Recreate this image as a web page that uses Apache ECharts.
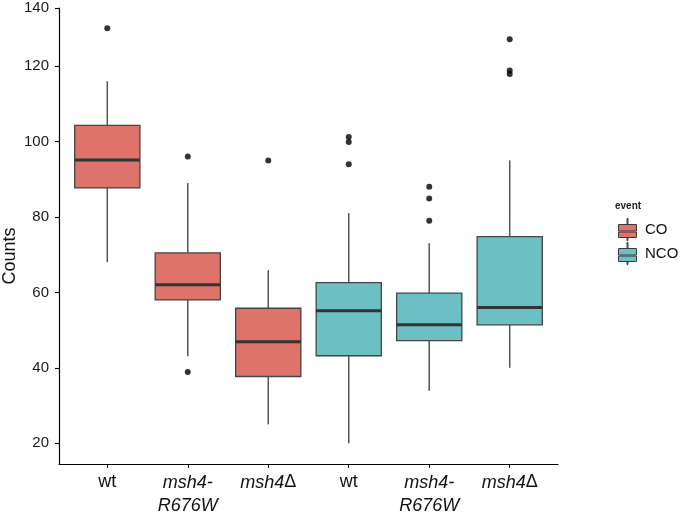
<!DOCTYPE html>
<html><head><meta charset="utf-8">
<script src="https://cdn.jsdelivr.net/npm/echarts@6/dist/echarts.min.js"></script>
<style>html,body{margin:0;padding:0;background:#fff}#c{width:680px;height:514px}</style>
</head><body><div id="c"></div>
<script>
// ---- data ----
const categories = ['wt', 'msh4-R676W', 'msh4Δ', 'wt', 'msh4-R676W', 'msh4Δ'];
const categoryEvent = ['CO', 'CO', 'CO', 'NCO', 'NCO', 'NCO'];
const events = ['CO', 'NCO'];
const yTickValues = [20, 40, 60, 80, 100, 120];
const yTopTick = [140];
// [lower whisker, Q1, median, Q3, upper whisker]
const coStats = [
  [68.0, 87.7, 95.1, 104.3, 116.0],
  [43.1, 58.0, 62.0, 70.5, 89.0],
  [25.0, 37.7, 46.9, 55.8, 65.9]
];
const ncoStats = [
  [20.0, 43.2, 55.1, 62.6, 81.0],
  [33.9, 47.2, 51.4, 59.8, 73.0],
  [40.0, 51.4, 56.0, 74.8, 95.0]
];
const coOutliers = [[130.0], [96.0, 38.9], [95.0]];
const ncoOutliers = [[101.2, 99.9, 94.0], [88.0, 84.9, 79.0], [127.1, 118.8, 117.9]];

// ---- build series data ----
const positions = categories.map((c, i) => i + 1);
const coPos = positions.filter((p, i) => categoryEvent[i] === 'CO');
const ncoPos = positions.filter((p, i) => categoryEvent[i] === 'NCO');
const coData = coStats.map((s, i) => [coPos[i]].concat(s));
const ncoData = ncoStats.map((s, i) => [ncoPos[i]].concat(s));
const outlierData = [];
coOutliers.forEach((arr, i) => arr.forEach(v => outlierData.push([coPos[i], v])));
ncoOutliers.forEach((arr, i) => arr.forEach(v => outlierData.push([ncoPos[i], v])));

function renderBox(params, api) {
  const x = api.value(0);
  const lo = api.coord([x, api.value(1)]);
  const q1 = api.coord([x, api.value(2)]);
  const md = api.coord([x, api.value(3)]);
  const q3 = api.coord([x, api.value(4)]);
  const hi = api.coord([x, api.value(5)]);
  const w = api.size([0.81, 0], [x, 60])[0];
  const cx = q1[0];
  const color = api.visual('color');
  return {
    type: 'group',
    children: [
      { type: 'line', shape: { x1: cx, y1: hi[1], x2: cx, y2: q3[1] }, style: { stroke: '#555', lineWidth: 1.5 } },
      { type: 'line', shape: { x1: cx, y1: q1[1], x2: cx, y2: lo[1] }, style: { stroke: '#555', lineWidth: 1.5 } },
      { type: 'rect', shape: { x: cx - w / 2, y: q3[1], width: w, height: q1[1] - q3[1] }, style: { fill: color, stroke: '#444', lineWidth: 1.3 } },
      { type: 'line', shape: { x1: cx - w / 2, y1: md[1], x2: cx + w / 2, y2: md[1] }, style: { stroke: '#333', lineWidth: 3 } }
    ]
  };
}

function fmtLabel(v) {
  const idx = Math.round(v) - 1;
  const name = categories[idx];
  if (name === undefined) return '';
  if (name.indexOf('msh4') !== 0) return '{n|' + name + '}';
  const parts = name.split('-');
  if (parts.length > 1) return '{i|' + parts[0] + '-}\n{i|' + parts[1] + '}';
  const m = name.replace('Δ', '');
  return '{i|' + m + '}' + (name.indexOf('Δ') >= 0 ? '{n|Δ}' : '');
}

const fontFam = '"Liberation Sans", Arial, Helvetica, sans-serif';
const boxIcon = 'path://M10.5,0h1v6h-1z M2,6h18v6.5h-18z M2,13.5h18v5.5h-18z M10.5,19h1v3h-1z';

const chart = echarts.init(document.getElementById('c'), null, { renderer: 'canvas' });
chart.setOption({
  animation: false,
  backgroundColor: '#fff',
  textStyle: { fontFamily: fontFam },
  title: {
    text: 'event', left: 615, top: 201, padding: 0,
    textStyle: { fontSize: 10, fontWeight: 'bold', color: '#222', fontFamily: fontFam }
  },
  legend: {
    orient: 'vertical', left: 618, top: 218, padding: 0, itemWidth: 19, itemHeight: 22, itemGap: 1,
    data: events.map(e => ({ name: e, icon: boxIcon })),
    itemStyle: { borderColor: '#3a3a3a', borderWidth: 1 },
    textStyle: { fontSize: 15, color: '#111', fontFamily: fontFam, padding: [0, 0, 0, 3] },
    selectedMode: false
  },
  grid: { left: 59, right: 122, top: 8, bottom: 50, containLabel: false, outerBoundsMode: 'none' },
  xAxis: [{
    type: 'value', min: 0.4, max: 6.6,
    axisLine: { show: true, lineStyle: { color: '#000', width: 1.2 } },
    axisTick: { show: true, length: 4, customValues: positions, lineStyle: { color: '#000', width: 1.1 } },
    axisLabel: {
      customValues: positions, formatter: fmtLabel, margin: 7,
      rich: {
        i: { fontStyle: 'italic', fontSize: 18, lineHeight: 23, color: '#111', fontFamily: fontFam },
        n: { fontSize: 18, lineHeight: 23, color: '#111', fontFamily: fontFam }
      }
    },
    splitLine: { show: false }
  }],
  yAxis: [{
    type: 'value', min: 14.5, max: 135.4, position: 'left',
    name: 'Counts', nameLocation: 'middle', nameGap: 40, nameMoveOverlap: false,
    nameTextStyle: { fontSize: 18, color: '#111', fontFamily: fontFam, padding: [0, 40, 0, 0] },
    axisLine: { show: true, lineStyle: { color: '#000', width: 1.2 } },
    axisTick: { show: true, length: 4, customValues: yTickValues, lineStyle: { color: '#000', width: 1.1 } },
    axisLabel: { customValues: yTickValues, fontSize: 15, color: '#1a1a1a', margin: 10, fontFamily: fontFam },
    splitLine: { show: false }
  }, {
    type: 'value', min: 14.5, max: 140, position: 'left',
    axisLine: { show: false },
    axisTick: { show: true, length: 4, customValues: yTopTick, lineStyle: { color: '#000', width: 1.1 } },
    axisLabel: { customValues: yTopTick, fontSize: 15, color: '#1a1a1a', margin: 10, fontFamily: fontFam },
    splitLine: { show: false }
  }],
  series: [
    {
      name: 'CO', type: 'custom', renderItem: renderBox, data: coData,
      encode: { x: 0, y: [1, 2, 3, 4, 5] },
      itemStyle: { color: '#DE736B' }, z: 2
    },
    {
      name: 'NCO', type: 'custom', renderItem: renderBox, data: ncoData,
      encode: { x: 0, y: [1, 2, 3, 4, 5] },
      itemStyle: { color: '#6CBFC3' }, z: 2
    },
    {
      name: 'outliers', type: 'scatter', data: outlierData,
      symbol: 'circle', symbolSize: 6, itemStyle: { color: '#000' }, z: 3
    }
  ]
});
</script>
</body></html>
